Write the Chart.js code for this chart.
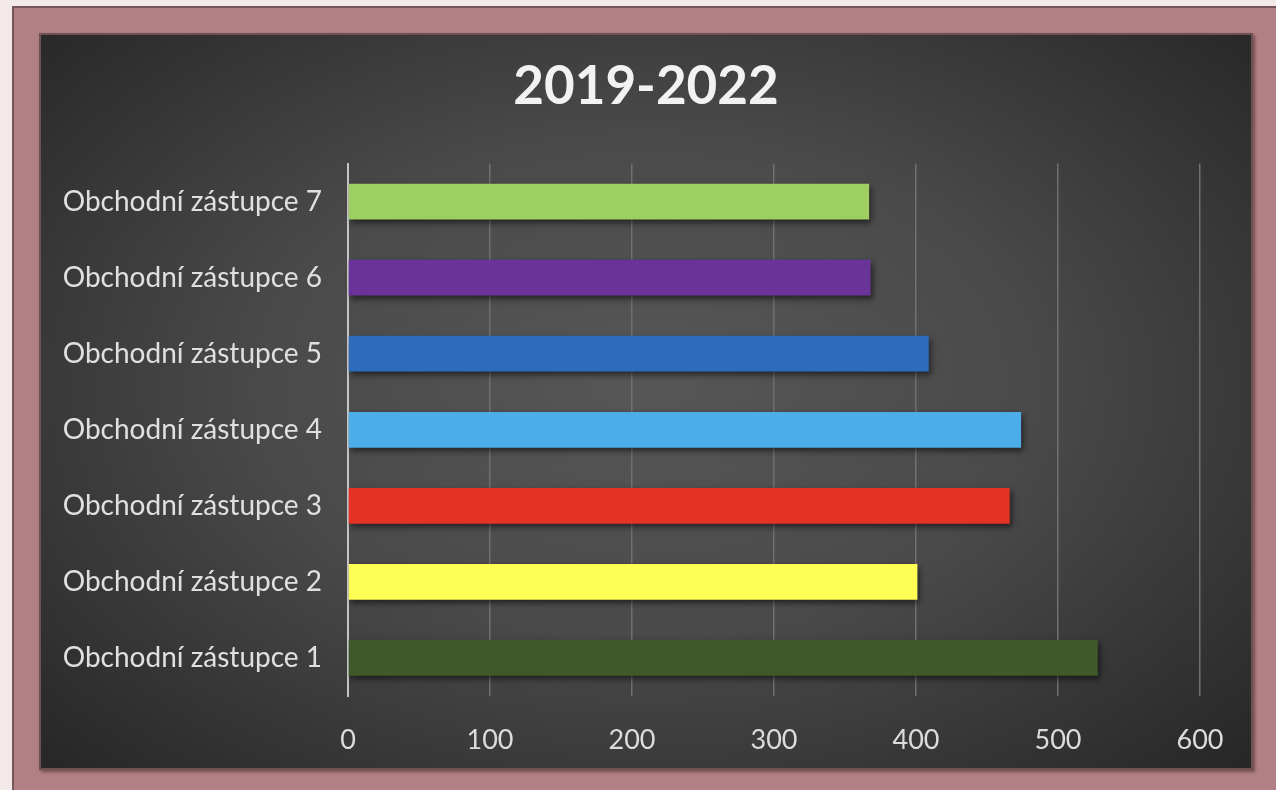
<!DOCTYPE html>
<html>
<head>
<meta charset="utf-8">
<script src="https://cdn.jsdelivr.net/npm/chart.js"></script>
<style>
  html, body { margin: 0; padding: 0; }
  body { width: 1276px; height: 790px; background: #f4e9e9; position: relative; overflow: hidden; }
  .frame {
    position: absolute; left: 12px; top: 6px; width: 1280px; height: 800px;
    background: #b18084; border-left: 2px solid #76565a; border-top: 2px solid #76565a;
  }
  .panel {
    position: absolute; left: 39px; top: 33px; width: 1210px; height: 733px;
    border: 2px solid #6f5153;
    background: radial-gradient(ellipse 70% 75% at 50% 48%, #575757 0%, #4a4a4a 45%, #333333 80%, #262626 100%);
    box-shadow: 2px 2px 3px rgba(60,30,30,0.5);
  }
  .panel canvas { position: absolute; left: 0; top: 0; }
</style>
</head>
<body>
<div class="frame"></div>
<div class="panel"><canvas id="chart" width="1210" height="733"></canvas></div>
<script>
// data
const categories = [
  "Obchodní zástupce 7",
  "Obchodní zástupce 6",
  "Obchodní zástupce 5",
  "Obchodní zástupce 4",
  "Obchodní zástupce 3",
  "Obchodní zástupce 2",
  "Obchodní zástupce 1"
];
const values = [367, 368, 409, 474, 466, 401, 528];
const barColors = ["#9dcf62", "#6a339a", "#2e6bbb", "#4caee8", "#e43224", "#fefe54", "#3f5a2a"];
const xTicks = [0, 100, 200, 300, 400, 500, 600];
const title = "2019-2022";

// soft shadow under the bars, like the office chart
const barShadow = {
  id: "barShadow",
  beforeDatasetsDraw(chart) {
    const ctx = chart.ctx;
    ctx.save();
    ctx.shadowColor = "rgba(0,0,0,0.55)";
    ctx.shadowBlur = 6;
    ctx.shadowOffsetX = 2;
    ctx.shadowOffsetY = 3;
  },
  afterDatasetsDraw(chart) {
    chart.ctx.restore();
  }
};

new Chart(document.getElementById("chart"), {
  type: "bar",
  data: {
    labels: categories,
    datasets: [{
      data: values,
      backgroundColor: barColors,
      borderWidth: 0,
      categoryPercentage: 1,
      barPercentage: 0.47
    }]
  },
  options: {
    indexAxis: "y",
    responsive: false,
    animation: false,
    layout: { padding: 0 },
    plugins: {
      legend: { display: false },
      tooltip: { enabled: false },
      title: {
        display: true,
        text: title,
        color: "#f2f2f2",
        font: { family: "Lato", size: 53, weight: "bold", lineHeight: 1.2 },
        padding: { top: 20, bottom: 45 }
      }
    },
    scales: {
      x: {
        min: 0,
        max: 600,
        afterBuildTicks(s) { s.ticks = xTicks.map(v => ({ value: v })); },
        afterFit(s) { s.height = 72; s.paddingRight = 51; },
        grid: { color: "#707070", lineWidth: 1.5, drawTicks: false },
        border: { display: false },
        ticks: {
          color: "#dcdcdc",
          font: { family: "Lato", size: 27 },
          padding: 28
        }
      },
      y: {
        afterFit(s) { s.width = 307; },
        grid: { display: false, drawTicks: false },
        border: { display: true, color: "#c4c4c4", width: 2 },
        ticks: {
          color: "#e0e0e0",
          font: { family: "Lato", size: 28 },
          padding: 26
        }
      }
    }
  },
  plugins: [barShadow]
});
</script>
</body>
</html>
